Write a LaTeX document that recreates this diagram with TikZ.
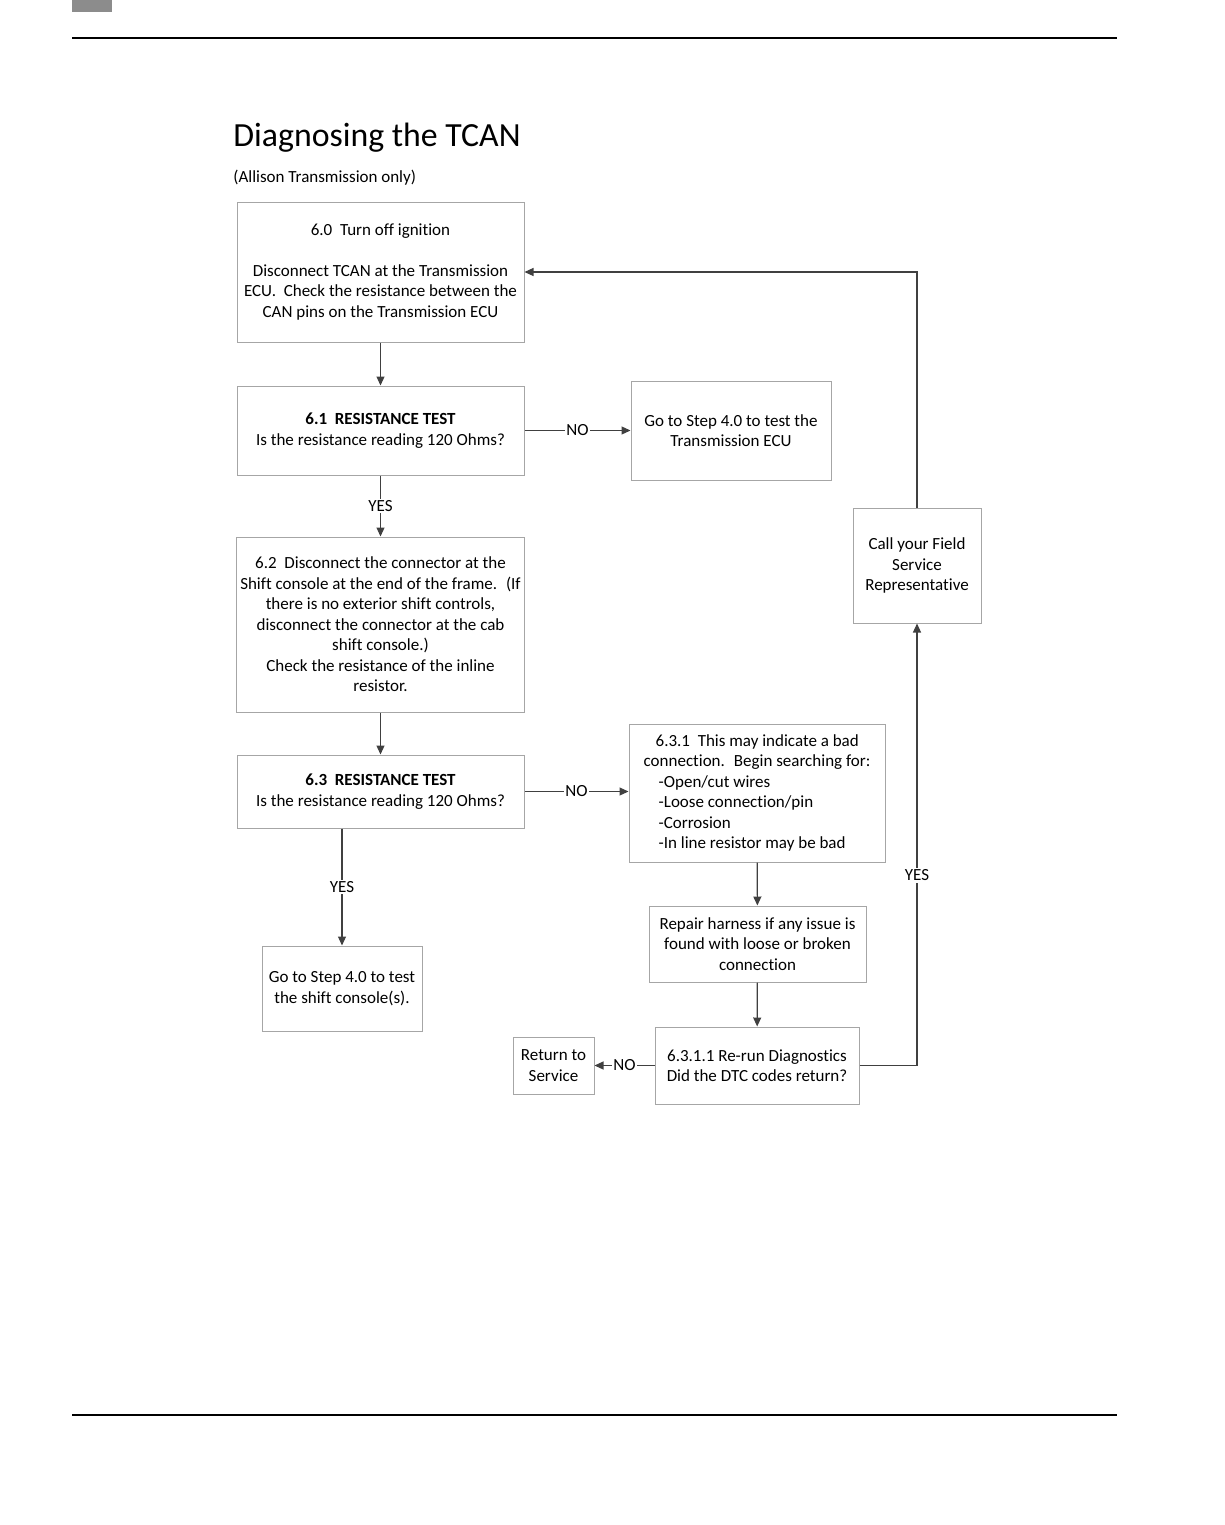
\documentclass[tikz,border=0pt]{standalone}
\usepackage{fontspec}
\setmainfont{Carlito}[Ligatures=NoCommon]
\usetikzlibrary{positioning,arrows.meta,calc}
\definecolor{boxgray}{HTML}{A6A6A6}
\definecolor{arrowgray}{HTML}{404040}
\newcommand{\txtsize}{\fontsize{8.5}{10.25}\selectfont}
\tikzset{
  stepbox/.style={draw=boxgray,line width=0.5pt,align=center,inner sep=2pt,font=\txtsize},
  flow/.style={draw=arrowgray,line width=0.6pt,-{Triangle[length=4.5pt,width=4pt]}},
  lbl/.style={fill=white,inner sep=0.8pt,font=\txtsize,text=black}
}
\begin{document}
\begin{tikzpicture}[x=0.5pt,y=-0.5pt]
\useasboundingbox (0,0) rectangle (1225,1525);
% page header and footer
\fill[gray!90] (72,0) rectangle (112,12);
\draw[line width=0.75pt] (72,38) -- (1117,38);
\draw[line width=0.75pt] (72,1415) -- (1117,1415);
% title
\node[anchor=base west,inner sep=0pt,font=\fontsize{16.9}{20}\selectfont] (title) at (233,147) {Diagnosing the TCAN};
\node[anchor=base west,inner sep=0pt,font=\txtsize] (subtitle) at (233,182) {(Allison Transmission only)};
% boxes
\node[stepbox,minimum width=143.5pt,minimum height=70pt] (b60) at (380.5,272)
  {6.0~ Turn off ignition\\[10.25pt]Disconnect TCAN at the Transmission\\ECU.~ Check the resistance between the\\CAN pins on the Transmission ECU};
\node[stepbox,minimum width=143.5pt,minimum height=44.5pt] (b61) at (380.5,430.5)
  {\textbf{6.1~ RESISTANCE TEST}\\Is the resistance reading 120 Ohms?};
\node[stepbox,minimum width=100pt,minimum height=49.5pt] (g40) at (731,430.5)
  {Go to Step 4.0 to test the\\Transmission ECU};
\node[stepbox,minimum width=143.5pt,minimum height=87.5pt] (b62) at (380.5,624.5)
  {6.2~ Disconnect the connector at the\\Shift console at the end of the frame.~ (If\\there is no exterior shift controls,\\disconnect the connector at the cab\\shift console.)\\Check the resistance of the inline\\resistor.};
\node[stepbox,minimum width=143.5pt,minimum height=36.5pt] (b63) at (380.5,791.5)
  {\textbf{6.3~ RESISTANCE TEST}\\Is the resistance reading 120 Ohms?};
\node[stepbox,align=left,minimum width=128pt,minimum height=69pt] (b631) at (757,793)
  {\hspace*{6pt}6.3.1~ This may indicate a bad\\connection.~ Begin searching for:\\\hspace*{7.5pt}-Open/cut wires\\\hspace*{7.5pt}-Loose connection/pin\\\hspace*{7.5pt}-Corrosion\\\hspace*{7.5pt}-In line resistor may be bad};
\node[stepbox,minimum width=108.5pt,minimum height=38pt] (repair) at (757.5,944)
  {Repair harness if any issue is\\found with loose or broken\\connection};
\node[stepbox,minimum width=80pt,minimum height=42.5pt] (g40s) at (342,988.5)
  {Go to Step 4.0 to test\\the shift console(s).};
\node[stepbox,minimum width=102pt,minimum height=38.5pt] (rerun) at (757,1065.5)
  {6.3.1.1 Re-run Diagnostics\\Did the DTC codes return?};
\node[stepbox,minimum width=40.5pt,minimum height=28.5pt] (ret) at (553.5,1065.5)
  {Return to\\Service};
\node[stepbox,minimum width=64pt,minimum height=57.5pt] (call) at (917,565.5)
  {Call your Field\\Service\\Representative};
% connectors
\draw[flow] (b60) -- (b61);
\draw[flow] (b61) -- node[lbl] (no1) {NO} (g40);
\draw[flow] (b61) -- node[lbl] (yes1) {YES} (b62);
\draw[flow] (b62) -- (b63);
\draw[flow] (b63.east) -- node[lbl] (no2) {NO} (b63.east -| b631.west);
\draw[flow] (g40s.north |- b63.south) -- node[lbl] (yes2) {YES} (g40s.north);
\draw[flow] (b631) -- (repair);
\draw[flow] (repair) -- (rerun);
\draw[flow] (rerun) -- node[lbl] (no3) {NO} (ret);
\draw[flow] (rerun.east) -- (call.south |- rerun.east) -- node[lbl,pos=0.43] (yes3) {YES} (call.south);
\draw[flow] (call.north) -- (call.north |- b60.east) -- (b60.east);
\end{tikzpicture}
\end{document}
